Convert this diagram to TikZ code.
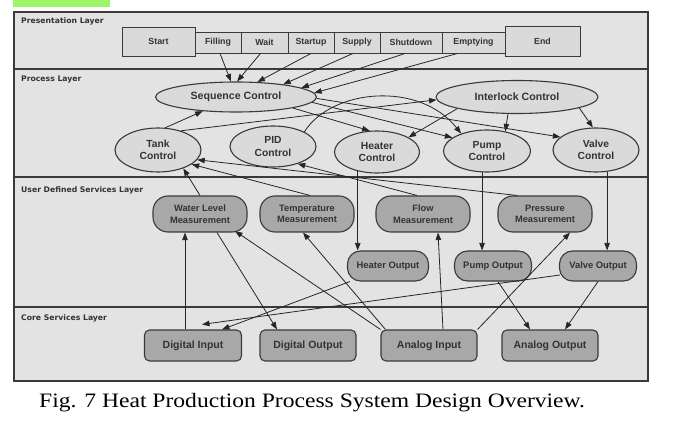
\documentclass[tikz,border=0pt]{standalone}
\usepackage{fontspec}
\setmainfont{Liberation Sans}
\newfontfamily\capfont[FakeStretch=1.15]{Liberation Serif}
\newfontfamily\lblfont{DejaVu Sans}
\usetikzlibrary{shapes.geometric,arrows.meta}
\definecolor{framebg}{HTML}{E3E3E3}
\definecolor{ellfill}{HTML}{DADADA}
\definecolor{boxfill}{HTML}{A8A8A8}
\definecolor{strk}{HTML}{3A3A3A}
\definecolor{txt}{HTML}{333333}
\definecolor{tag}{HTML}{9CF56B}
\tikzset{
  layerlbl/.style={anchor=west,inner sep=0,font=\lblfont\bfseries\fontsize{7.7}{8}\selectfont,text=txt},
  pbox/.style={draw=strk,fill=ellfill,line width=0.9,inner sep=0,font=\bfseries\fontsize{8.8}{9}\selectfont,text=txt},
  ell/.style={ellipse,draw=strk,fill=ellfill,line width=1.1,inner sep=0,align=center,font=\bfseries\fontsize{10.3}{12.5}\selectfont,text=txt},
  bigell/.style={ell,font=\bfseries\fontsize{10.6}{12}\selectfont},
  ubox/.style={draw=strk,fill=boxfill,line width=1.1,inner sep=0,align=center,rounded corners=15,minimum width=94,minimum height=36,font=\bfseries\fontsize{9.3}{11.5}\selectfont,text=txt},
  obox/.style={draw=strk,fill=boxfill,line width=1.1,inner sep=0,rounded corners=13,minimum height=30,font=\bfseries\fontsize{9.4}{10}\selectfont,text=txt},
  cbox/.style={draw=strk,fill=boxfill,line width=1.1,inner sep=0,rounded corners=5,minimum width=96,minimum height=31,font=\bfseries\fontsize{10.5}{11}\selectfont,text=txt},
  arr/.style={draw=black!85,line width=0.8,-{Triangle[length=7.5pt,width=5.5pt]}},
}
\begin{document}
\begin{tikzpicture}[x=1pt,y=-1pt]
\useasboundingbox (0,0) rectangle (683,422);
\fill[white] (0,0) rectangle (683,422);
\fill[tag] (13,0) rectangle (110,7);
% frame and layers
\fill[framebg] (14,12) rectangle (648,381);
\draw[strk,line width=1.6] (14,12) rectangle (648,381);
\draw[strk,line width=1.6] (14,69) -- (648,69);
\draw[strk,line width=1.6] (14,177) -- (648,177);
\draw[strk,line width=1.6] (14,307) -- (648,307);
\node[layerlbl] (lpres) at (21,21) {Presentation Layer};
\node[layerlbl] (lproc) at (21,80) {Process Layer};
\node[layerlbl] (luser) at (21,190) {User Defined Services Layer};
\node[layerlbl] (lcore) at (21,318) {Core Services Layer};
% presentation
\node[pbox,minimum width=73,minimum height=29] (start) at (158.5,41.5) {Start};
\node[pbox,minimum width=46,minimum height=21] (fill) at (218,42.5) {Filling};
\node[pbox,minimum width=47,minimum height=21] (wait) at (264.5,42.5) {Wait};
\node[pbox,minimum width=46,minimum height=21] (startup) at (311,42.5) {Startup};
\node[pbox,minimum width=46,minimum height=21] (supply) at (357,42.5) {Supply};
\node[pbox,minimum width=62,minimum height=21] (shutdown) at (411,42.5) {Shutdown};
\node[pbox,minimum width=63,minimum height=21] (empty) at (473.5,42.5) {Emptying};
\node[pbox,minimum width=75,minimum height=30] (end) at (542.5,41.5) {End};
% process
\node[bigell,minimum width=161,minimum height=30] (seq) at (236,97) {Sequence Control};
\node[bigell,minimum width=162,minimum height=33] (int) at (517,97) {Interlock Control};
\node[ell,minimum width=86,minimum height=44] (tank) at (158,150) {Tank\\Control};
\node[ell,minimum width=86,minimum height=41] (pid) at (273,146.5) {PID\\Control};
\node[ell,minimum width=85,minimum height=42] (heater) at (377,152) {Heater\\Control};
\node[ell,minimum width=87,minimum height=42] (pump) at (487,151) {Pump\\Control};
\node[ell,minimum width=86,minimum height=44] (valve) at (596,150) {Valve\\Control};
% user defined services
\node[ubox] (wlm) at (200,214) {Water Level\\Measurement};
\node[ubox] (temp) at (307,214) {Temperature\\Measurement};
\node[ubox] (flow) at (423,214) {Flow\\Measurement};
\node[ubox] (press) at (545,214) {Pressure\\Measurement};
\node[obox,minimum width=81] (ho) at (388,266) {Heater Output};
\node[obox,minimum width=77] (po) at (493,266) {Pump Output};
\node[obox,minimum width=77] (vo) at (598,266) {Valve Output};
% core services
\node[cbox,minimum width=97] (di) at (193,345.5) {Digital Input};
\node[cbox] (do) at (308,345.5) {Digital Output};
\node[cbox] (ai) at (429,345.5) {Analog Input};
\node[cbox] (ao) at (550,345.5) {Analog Output};
% caption
\node[anchor=west,inner sep=0,font=\capfont\fontsize{20.5}{24}\selectfont] (cap) at (39,403) {Fig. 7 Heat Production Process System Design Overview.};
% presentation -> sequence control
\draw[arr] ([xshift=2pt]fill.south) -- (seq.108);
\draw[arr] ([xshift=-4pt]wait.south) -- (seq.86);
\draw[arr] (startup.south) -- (seq.35);
\draw[arr] ([xshift=-4pt]supply.south) -- (seq.15);
\draw[arr] ([xshift=-6pt]shutdown.south) -- (seq.8);
\draw[arr] ([xshift=-16pt]empty.south) -- (seq.3);
% process layer
\draw[arr] (tank.72) -- (seq.-157);
\draw[arr] (tank.40) -- (int.182);
\draw[arr] (pid.25) .. controls +(27,-43) and +(-42,-53) .. (pump.146);
\draw[arr] (seq.-11) -- (heater.109);
\draw[arr] (seq.-4) -- (pump.159);
\draw[arr] (seq.-1) -- (valve.160);
\draw[arr] (int.-169) -- (heater.25);
\draw[arr] (int.242) -- (pump.47);
\draw[arr] (int.-10) -- (valve.98);
% process -> outputs
\draw[arr] (heater.-135) -- (heater.-135 |- ho.north);
\draw[arr] (pump.-103.5) -- (pump.-103.5 |- po.north);
\draw[arr] (valve.-63) -- (valve.-63 |- vo.north);
% measurements -> process
\draw[arr] (wlm.north) -- (tank.-36);
\draw[arr] ([xshift=3pt]temp.north) -- (tank.-23);
\draw[arr] ([xshift=-28pt]press.north) -- (tank.-14);
\draw[arr] ([xshift=-6pt]flow.north) -- (pid.-35);
% core <-> user
\draw[arr] ([xshift=-8pt]di.north) -- ([xshift=-8pt]di.north |- wlm.south);
\draw[arr] ([xshift=17pt]wlm.south) -- ([xshift=-31pt]do.north);
\draw[arr] (ai.north west) -- ([xshift=35pt,yshift=1.5pt]wlm.south);
\draw[arr] ([xshift=5pt]ai.north west) -- ([xshift=-4pt]temp.south);
\draw[arr] ([xshift=14pt]ai.north) -- ([xshift=15pt]flow.south);
\draw[arr] (ai.north east) -- ([xshift=25pt]press.south);
\draw[arr] ([xshift=3pt]ho.south west) -- ([xshift=29pt]di.north);
\draw[arr] ([xshift=1pt,yshift=-9pt]vo.west) -- ([xshift=9pt,yshift=5pt]di.north);
\draw[arr] ([xshift=5pt]po.south) -- ([xshift=-20pt]ao.north);
\draw[arr] (vo.south) -- ([xshift=15pt]ao.north);
\end{tikzpicture}
\end{document}
